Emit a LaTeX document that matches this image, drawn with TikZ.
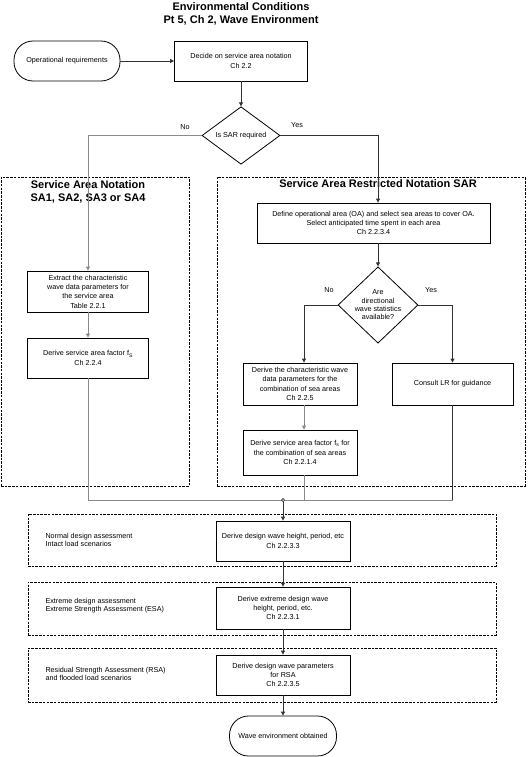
\documentclass[tikz,border=0pt]{standalone}
\usepackage{fontspec}
\setmainfont{Liberation Sans}
\usetikzlibrary{shapes.geometric,arrows.meta}
\definecolor{lnd}{HTML}{333333}
\definecolor{lng}{HTML}{8A8A8A}
\begin{document}
\begin{tikzpicture}[x=1pt,y=-1pt,
  box/.style={draw, line width=0.8pt, inner sep=1pt, align=center, font=\fontsize{7.2}{9.3}\selectfont},
  term/.style={box, rounded corners=19pt},
  dia/.style={draw, diamond, line width=0.8pt, inner sep=0pt, align=center, font=\fontsize{7.2}{8.3}\selectfont},
  grp/.style={draw, dash pattern=on 2.5pt off 1.2pt, line width=0.7pt, inner sep=0pt},
  arr/.style={-{Triangle[width=4pt,length=4pt]}, line width=0.8pt, draw=lnd},
  garr/.style={arr, draw=lng},
  gln/.style={line width=0.8pt, draw=lng},
  lbl/.style={font=\fontsize{7.2}{8}\selectfont, align=left},
  ttl/.style={font=\fontsize{11}{13.5}\selectfont\bfseries, align=center}]
\useasboundingbox (0,0) rectangle (528,757);

% titles
\node[ttl] (title) at (241,14) {Environmental Conditions\\Pt 5, Ch 2, Wave Environment};

% groups
\node[grp, minimum width=188, minimum height=309] (gl) at (95,331.5) {};
\node[grp, minimum width=308, minimum height=309] (gr) at (371,331.5) {};
\node[ttl] (gltitle) at (88,192) {Service Area Notation\\SA1, SA2, SA3 or SA4};
\node[ttl] (grtitle) at (378,184) {Service Area Restricted Notation SAR};
\node[grp, minimum width=468, minimum height=52] (g1) at (262,540) {};
\node[grp, minimum width=468, minimum height=53] (g2) at (262,608.5) {};
\node[grp, minimum width=468, minimum height=54] (g3) at (262,675) {};
\node[lbl, anchor=west] (t1) at (42,540) {Normal design assessment\\Intact load scenarios};
\node[lbl, anchor=west] (t2) at (42,606) {Extreme design assessment\\Extreme Strength Assessment (ESA)};
\node[lbl, anchor=west] (t3) at (42,674) {Residual Strength Assessment (RSA)\\and flooded load scenarios};

% main nodes
\node[term, minimum width=106, minimum height=40] (opreq) at (67,61) {Operational requirements};
\node[box, minimum width=133, minimum height=40] (decide) at (241,61) {Decide on service area notation\\Ch 2.2};
\node[dia, minimum width=78, minimum height=55] (sar) at (241,135.5) {Is SAR required};

\node[box, minimum width=121, minimum height=41] (extract) at (88,291.5) {Extract the characteristic\\wave data parameters for\\the service area\\Table 2.2.1};
\node[box, minimum width=121, minimum height=40] (derfsl) at (88,358) {Derive service area factor f\textsubscript{S}\\Ch 2.2.4};

\node[box, minimum width=233, minimum height=40] (oa) at (373.5,223) {Define operational area (OA) and select sea areas to cover OA.\\Select anticipated time spent in each area\\Ch 2.2.3.4};
\node[dia, minimum width=80, minimum height=66] (dir) at (378,305) {Are\\directional\\wave statistics\\available?};
\node[box, minimum width=114, minimum height=42] (derchar) at (300,384) {Derive the characteristic wave\\data parameters for the\\combination of sea areas\\Ch 2.2.5};
\node[box, minimum width=121, minimum height=42] (consult) at (452.5,384) {Consult LR for guidance};
\node[box, minimum width=114, minimum height=45] (derfs) at (300,452.5) {Derive service area factor f\textsubscript{s} for\\the combination of sea areas\\Ch 2.2.1.4};

\node[box, minimum width=134, minimum height=40] (d1) at (283,541) {Derive design wave height, period, etc\\Ch 2.2.3.3};
\node[box, minimum width=134, minimum height=42] (d2) at (283,608) {Derive extreme design wave\\height, period, etc.\\Ch 2.2.3.1};
\node[box, minimum width=134, minimum height=40] (d3) at (283,675) {Derive design wave parameters\\for RSA\\Ch 2.2.3.5};
\node[term, minimum width=107, minimum height=40] (fin) at (283,736) {Wave environment obtained};

% connectors
\draw[arr] (opreq) -- (decide);
\draw[arr] (decide) -- (sar);
\draw[garr] (sar.west) -| (extract.north);
\node[lbl] (no1) at (185,127) {No};
\draw[arr] (sar.east) -| ([xshift=4.5pt]oa.north);
\node[lbl] (yes1) at (297,125) {Yes};
\draw[garr] (extract) -- (derfsl);
\draw[arr] ([xshift=4.5pt]oa.south) -- (dir.north);
\draw[arr] (dir.west) -| ([xshift=4pt]derchar.north);
\node[lbl] (no2) at (329,290) {No};
\draw[arr] (dir.east) -| (consult.north);
\node[lbl] (yes2) at (431,290) {Yes};
\draw[garr] ([xshift=4pt]derchar.south) -- ([xshift=4pt]derfs.north);

\coordinate (j) at (283,500);
\draw[gln] (derfsl.south) -- (derfsl.south |- j) -- (consult.south |- j);
\draw[gln] ([xshift=4pt]derfs.south) -- ([xshift=4pt]derfs.south |- j);
\draw[line width=0.8pt, draw=lnd] (consult.south) -- (consult.south |- j);
\draw[arr] (j) -- (d1.north);
\draw[line width=0.5pt, fill=white] (j) circle (1.6);
\draw[arr] (d1) -- (d2);
\draw[arr] (d2) -- (d3);
\draw[arr] (d3) -- (fin);
\end{tikzpicture}
\end{document}
